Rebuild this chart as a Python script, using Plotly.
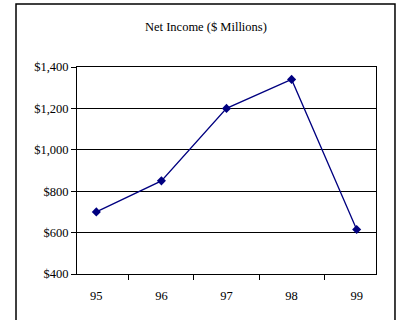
import plotly.graph_objects as go

years = ["95", "96", "97", "98", "99"]
net_income = [700, 850, 1200, 1340, 615]
y_ticks = [400, 600, 800, 1000, 1200, 1400]
y_labels = ["$400", "$600", "$800", "$1,000", "$1,200", "$1,400"]
title = "Net Income ($ Millions)"

fig = go.Figure()
fig.add_trace(go.Scatter(
    x=years, y=net_income, mode="lines+markers",
    line=dict(color="#000080", width=1.3),
    marker=dict(symbol="diamond", size=7, color="#000080"),
    showlegend=False,
))

font = dict(family="Liberation Serif, Times New Roman, serif", size=12.5, color="black")

fig.update_layout(
    width=401, height=320,
    margin=dict(l=77, r=25, t=67, b=46),
    paper_bgcolor="white", plot_bgcolor="white",
    font=font,
    xaxis=dict(
        type="category", tickson="boundaries", ticks="outside", ticklen=5,
        tickcolor="black", showline=True, linecolor="black", linewidth=1,
        mirror=True, showgrid=False, zeroline=False,
        tickfont=font, ticklabelstandoff=10,
    ),
    yaxis=dict(
        range=[400, 1400], tickvals=y_ticks, ticktext=y_labels,
        ticks="outside", ticklen=5, tickcolor="black",
        showline=True, linecolor="black", linewidth=1, mirror=True,
        showgrid=True, gridcolor="black", gridwidth=1, zeroline=False,
        tickfont=font,
    ),
    annotations=[dict(
        text=title, xref="paper", yref="paper", x=0.43, y=1.195,
        xanchor="center", yanchor="middle", showarrow=False, font=font,
    )],
    shapes=[dict(
        type="rect", xref="paper", yref="paper",
        x0=-0.204, x1=1.0635, y0=-0.24, y1=1.304,
        line=dict(color="black", width=1.5), layer="below",
    )],
)

fig.write_html("out.html")
